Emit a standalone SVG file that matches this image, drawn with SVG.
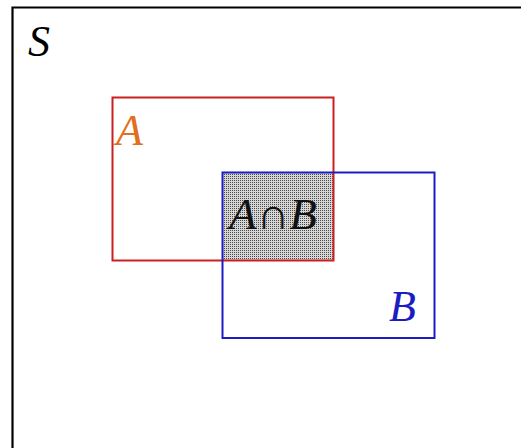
<svg xmlns="http://www.w3.org/2000/svg" width="521" height="448" viewBox="0 0 521 448">
  <defs>
    <pattern id="dots" width="2" height="2" patternUnits="userSpaceOnUse">
      <rect width="2" height="2" fill="#d6d6d6"/>
      <rect width="1" height="1" fill="#4a4a4a"/>
    </pattern>
    <style>
      .lbl { font-family: "Liberation Serif", "DejaVu Serif", serif; font-style: italic; font-size: 44px; }
      .set { fill: none; stroke-width: 2; }
    </style>
  </defs>
  <rect width="521" height="448" fill="#ffffff"/>
  <g id="S">
    <path d="M12.5 460 V7.5 H530" fill="none" stroke="#000" stroke-width="2.2"/>
    <text class="lbl" x="28" y="56" fill="#000">S</text>
  </g>
  <g id="AcapB">
    <rect x="222.5" y="173" width="110.5" height="87.5" fill="url(#dots)"/>
  </g>
  <g id="A">
    <rect class="set" x="112.5" y="97.5" width="221" height="163" stroke="#cc1f1f"/>
    <text class="lbl" x="116" y="145" fill="#e07020">A</text>
  </g>
  <g id="B">
    <rect class="set" x="222.5" y="172.5" width="212" height="165.5" stroke="#1c1cc4"/>
    <text class="lbl" x="389" y="321" fill="#1c1cc4">B</text>
  </g>
  <text class="lbl" x="229" y="229" fill="#111" textLength="88" lengthAdjust="spacingAndGlyphs">A∩B</text>
</svg>
